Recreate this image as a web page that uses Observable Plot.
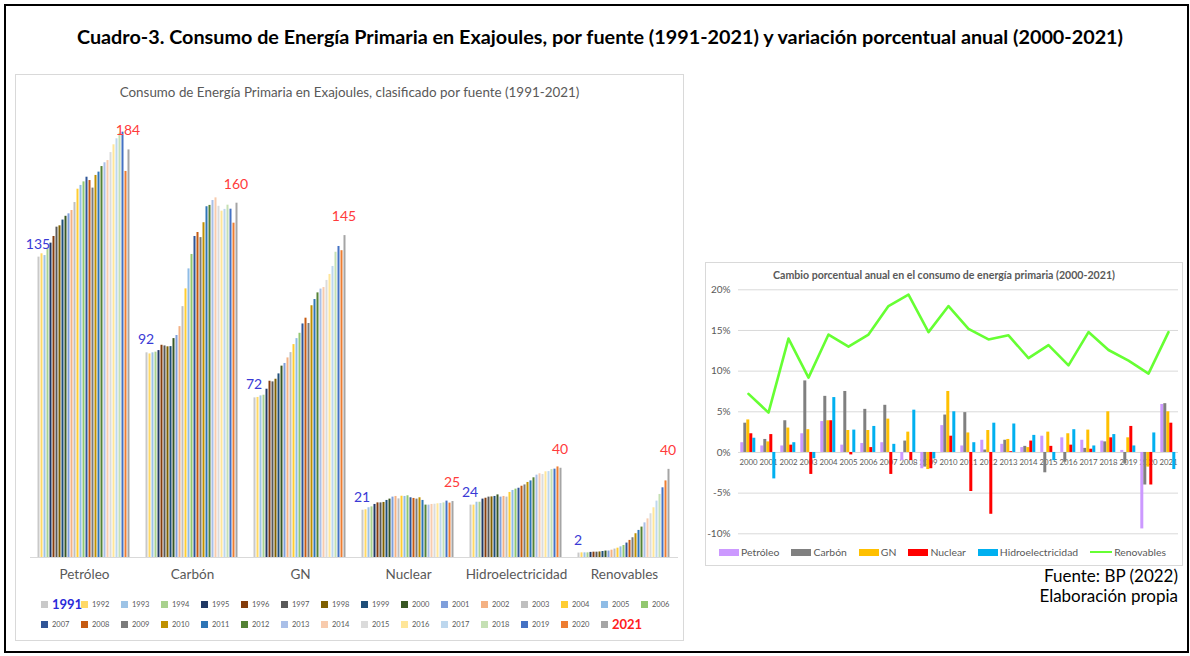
<!DOCTYPE html>
<html><head><meta charset="utf-8">
<script src="https://cdn.jsdelivr.net/npm/d3@7"></script>
<script src="https://cdn.jsdelivr.net/npm/@observablehq/plot@0.6"></script>
<style>
body{margin:0;background:#fff;font-family:Lato,"Noto Sans",sans-serif;}
#page{position:relative;width:1190px;height:656px;overflow:hidden;background:#fff;}
.abs{position:absolute;}
#frame{left:4px;top:4px;width:1181px;height:645px;border:2px solid #000;}
#title{left:0;width:1200px;top:24px;text-align:center;font-weight:bold;font-size:19.8px;color:#000;white-space:nowrap;}
#lp{left:15px;top:74px;width:667px;height:565px;border:1px solid #d9d9d9;}
#lsub{left:15px;width:669px;top:84px;text-align:center;font-size:13.4px;color:#595959;}
#rp{left:705px;top:262px;width:476px;height:302px;border:1px solid #d9d9d9;}
#rsub{left:705px;width:478px;top:269px;text-align:center;font-size:10.6px;font-weight:bold;color:#595959;}
.leg{position:absolute;display:flex;align-items:center;white-space:nowrap;color:#595959;}
#fuente{right:12px;top:566px;text-align:right;font-size:17px;line-height:20px;color:#000;}
</style></head>
<body><div id="page">
<div id="frame" class="abs"></div>
<div id="title" class="abs">Cuadro-3. Consumo de Energía Primaria en Exajoules, por fuente (1991-2021) y variación porcentual anual (2000-2021)</div>
<div id="lp" class="abs"></div>
<div id="lsub" class="abs">Consumo de Energía Primaria en Exajoules, clasificado por fuente (1991-2021)</div>
<div id="rp" class="abs"></div>
<div id="rsub" class="abs">Cambio porcentual anual en el consumo de energía primaria (2000-2021)</div>
<div id="fuente" class="abs">Fuente: BP (2022)<br>Elaboración propia</div>
</div>
<script>
// ---------- Left chart data (EJ) ----------
const years = [1991,1992,1993,1994,1995,1996,1997,1998,1999,2000,2001,2002,2003,2004,2005,2006,2007,2008,2009,2010,2011,2012,2013,2014,2015,2016,2017,2018,2019,2020,2021];
const fuentes = ["Petróleo","Carbón","GN","Nuclear","Hidroelectricidad","Renovables"];
const petroleo = [135.3,136.8,136.0,139.0,141.6,144.6,148.8,149.4,152.0,153.7,154.8,156.3,159.9,165.9,167.6,169.2,171.3,169.8,166.4,172.1,173.6,176.1,177.8,178.8,182.4,185.9,188.6,191.1,191.6,173.9,183.6];
const carbon = [92.2,91.7,92.2,92.5,93.2,95.6,95.3,94.9,95.0,98.6,100.0,104.0,113.0,121.0,130.0,136.5,144.6,146.4,144.1,150.8,158.0,158.6,160.8,162.0,158.2,156.0,156.8,158.7,156.9,150.6,159.6];
const gn = [71.9,72.1,72.8,73.1,75.8,79.4,79.1,80.3,82.7,86.2,87.4,89.9,92.3,95.9,98.6,101.0,105.2,107.8,105.4,113.4,116.2,119.2,120.9,121.6,124.8,127.5,131.1,137.5,140.1,138.2,145.0];
const nuclear = [21.3,21.5,22.4,22.8,23.9,24.6,24.6,24.8,25.7,26.3,27.2,27.5,26.4,27.6,27.5,27.8,26.9,26.6,26.3,26.9,25.7,23.6,23.6,23.9,24.0,24.2,24.3,24.6,25.4,24.5,25.2];
const hidro = [23.6,23.6,24.9,24.9,26.3,26.7,27.2,27.3,27.5,28.2,27.2,27.5,27.2,29.3,30.2,30.8,31.2,32.1,32.7,33.8,34.5,35.9,37.1,37.7,37.4,38.6,38.7,39.6,39.8,40.8,40.2];
const renovables = [2.0,2.1,2.1,2.1,2.3,2.4,2.4,2.5,2.7,2.9,2.9,3.3,3.8,4.2,4.8,5.4,6.5,7.7,8.9,10.7,12.2,13.7,15.6,17.4,19.7,22.4,25.4,28.4,31.4,34.5,39.7];
const yearColors = ["#c9c9c9","#ffd966","#9dc3e6","#a9d18e","#203864","#843c0c","#595959","#7f6000","#1f4e79","#385723","#7f9fdb","#f4b183","#bfbfbf","#ffcd33","#8fbce6","#92c76f","#2f5597","#c55a11","#7b7b7b","#bf9000","#2e75b6","#548235","#a9bfe8","#f8cbad","#dbdbdb","#ffe699","#bdd7ee","#c5e0b4","#4472c4","#ed7d31","#a5a5a5"];

// ---------- Right chart data (% annual change) ----------
const pctYears = [2000,2001,2002,2003,2004,2005,2006,2007,2008,2009,2010,2011,2012,2013,2014,2015,2016,2017,2018,2019,2020,2021];
const seriesR = ["Petróleo","Carbón","GN","Nuclear","Hidroelectricidad"];
const pPetroleo = [1.2,0.8,0.8,2.3,3.8,0.9,1.1,1.2,-1.0,-2.0,3.3,0.8,1.5,1.0,0.6,2.0,1.8,1.5,1.4,0.25,-9.4,5.9];
const pCarbon = [3.6,1.6,3.9,8.8,6.9,7.5,5.3,5.8,1.4,-1.8,4.6,4.9,0.3,1.5,0.75,-2.5,-1.2,0.5,1.3,-1.4,-4.0,6.0];
const pGN = [4.0,1.3,3.0,2.8,3.9,2.7,2.7,4.1,2.5,-2.1,7.5,2.4,2.7,1.6,0.6,2.5,2.3,2.75,5.0,1.8,-1.8,5.0];
const pNuclear = [2.3,2.2,0.9,-2.7,3.9,-0.3,0.6,-2.7,-1.0,-2.0,2.0,-4.8,-7.6,0.1,1.4,0.75,0.9,0.4,1.8,3.2,-4.0,3.6];
const pHidro = [1.75,-3.25,1.2,-0.75,6.75,2.75,3.2,1.0,5.2,-0.8,5.0,1.2,3.6,3.5,2.1,-1.0,2.8,0.8,2.2,0.8,2.4,-2.1];
const pRenovables = [7.2,4.9,14.0,9.2,14.5,13.0,14.5,18.0,19.4,14.8,18.0,15.2,13.9,14.4,11.6,13.2,10.7,14.8,12.6,11.3,9.7,14.8];
const colorsR = ["#cc99ff","#808080","#ffc000","#ff0000","#00b0f0"];
const colorRen = "#66ff33";
const yTicksR = [-10,-5,0,5,10,15,20];

const page = document.getElementById("page");
function place(el, left, top){ el.style.position="absolute"; el.style.left=left+"px"; el.style.top=top+"px"; page.appendChild(el); }

// ---------- Left chart ----------
const seriesL = [petroleo, carbon, gn, nuclear, hidro, renovables];
const dataL = fuentes.flatMap((f,i) => years.map((y,j) => ({fuente:f, year:y, value:seriesL[i][j]})));
const first = dataL.filter(d => d.year === years[0]);
const last = dataL.filter(d => d.year === years[years.length-1]);
const left = Plot.plot({
  width: 668, height: 520,
  marginLeft: 13.5, marginRight: 4.5, marginTop: 39, marginBottom: 37,
  style: {fontFamily: "Lato", fontSize: "13.5px", color: "#595959", background: "transparent", overflow: "visible"},
  fx: {domain: fuentes, padding: 0, axis: "bottom", label: null, tickSize: 0, tickPadding: 12},
  x: {domain: years, paddingInner: 0.25, paddingOuter: 0.9, axis: null},
  y: {domain: [0, 200], axis: null},
  color: {type: "ordinal", domain: years, range: yearColors},
  marks: [
    Plot.ruleY([0], {stroke: "#d9d9d9"}),
    Plot.barY(dataL, {fx: "fuente", x: "year", y: "value", fill: "year"}),
    Plot.text(first, {fx: "fuente", x: "year", y: "value", text: d => d3.format(".0f")(d.value), dy: -13, dx: -1, fill: "#3a3ad6", fontSize: 14}),
    Plot.text(last, {fx: "fuente", x: "year", y: "value", text: d => d3.format(".0f")(d.value), dy: -19, dx: -1, fill: "#ff3b3b", fontSize: 14})
  ]
});
place(left, 15, 74);

// left legend
years.forEach((y,i) => {
  const row = Math.floor(i/16), col = i%16;
  const it = document.createElement("div");
  it.className = "leg";
  const sw = document.createElement("span");
  sw.style.cssText = `display:inline-block;width:7px;height:7px;background:${yearColors[i]};margin-right:4px;`;
  const tx = document.createElement("span");
  tx.textContent = y;
  if (i === 0) tx.style.cssText = "font-size:13px;font-weight:bold;color:#2b2bd9;";
  else if (i === years.length-1) tx.style.cssText = "font-size:13px;font-weight:bold;color:#ff2020;";
  else tx.style.cssText = "font-size:7.5px;";
  it.appendChild(sw); it.appendChild(tx);
  it.style.height = "14px";
  place(it, 41 + 40*col, 597 + 20*row);
});

// ---------- Right chart ----------
const valsR = [pPetroleo, pCarbon, pGN, pNuclear, pHidro];
const dataR = seriesR.flatMap((s,i) => pctYears.map((y,j) => ({serie:s, year:y, value:valsR[i][j]})));
const common = {
  width: 477, height: 265,
  marginLeft: 32.7, marginRight: 3.7, marginTop: 9.3, marginBottom: 11.7
};
const right = Plot.plot({
  ...common,
  style: {fontFamily: "Lato", fontSize: "10px", color: "#595959", background: "transparent", overflow: "visible"},
  fx: {domain: pctYears, padding: 0, axis: null},
  x: {domain: seriesR, paddingInner: 0.15, paddingOuter: 0.72, axis: null},
  y: {domain: [-10, 20], axis: null},
  color: {domain: seriesR, range: colorsR},
  marks: [
    Plot.gridY(yTicksR, {stroke: "#d9d9d9", strokeOpacity: 1}),
    Plot.axisY(yTicksR, {facetAnchor: "left", tickSize: 0, tickPadding: 8, tickFormat: d => d + "%", label: null, fontSize: 10}),
    Plot.text(pctYears, {fx: d => d, y: d => 0, text: d => String(d), dy: 10, fill: "#595959", fontSize: 7.8}),
    Plot.barY(dataR, {fx: "year", x: "serie", y: "value", fill: "serie"})
  ]
});
place(right, 705, 280);

const lineP = Plot.plot({
  ...common,
  style: {background: "transparent", overflow: "visible"},
  x: {type: "point", domain: pctYears, padding: 0.5, axis: null},
  y: {domain: [-10, 20], axis: null},
  marks: [
    Plot.line(pctYears, {x: d => d, y: (d,i) => pRenovables[i], stroke: colorRen, strokeWidth: 2.6})
  ]
});
place(lineP, 705, 280);

// right legend
const rleg = document.createElement("div");
rleg.className = "leg";
rleg.style.fontSize = "10.4px";
seriesR.concat(["Renovables"]).forEach((s,i) => {
  const sw = document.createElement("span");
  if (i < 5) sw.style.cssText = `display:inline-block;width:20px;height:7px;background:${colorsR[i]};margin-right:2px;`;
  else sw.style.cssText = `display:inline-block;width:22px;height:2.5px;background:${colorRen};margin-right:2px;`;
  const tx = document.createElement("span");
  tx.textContent = s;
  tx.style.marginRight = "12px";
  rleg.appendChild(sw); rleg.appendChild(tx);
});
rleg.style.height = "14px";
place(rleg, 719, 545);
</script>
</body></html>
